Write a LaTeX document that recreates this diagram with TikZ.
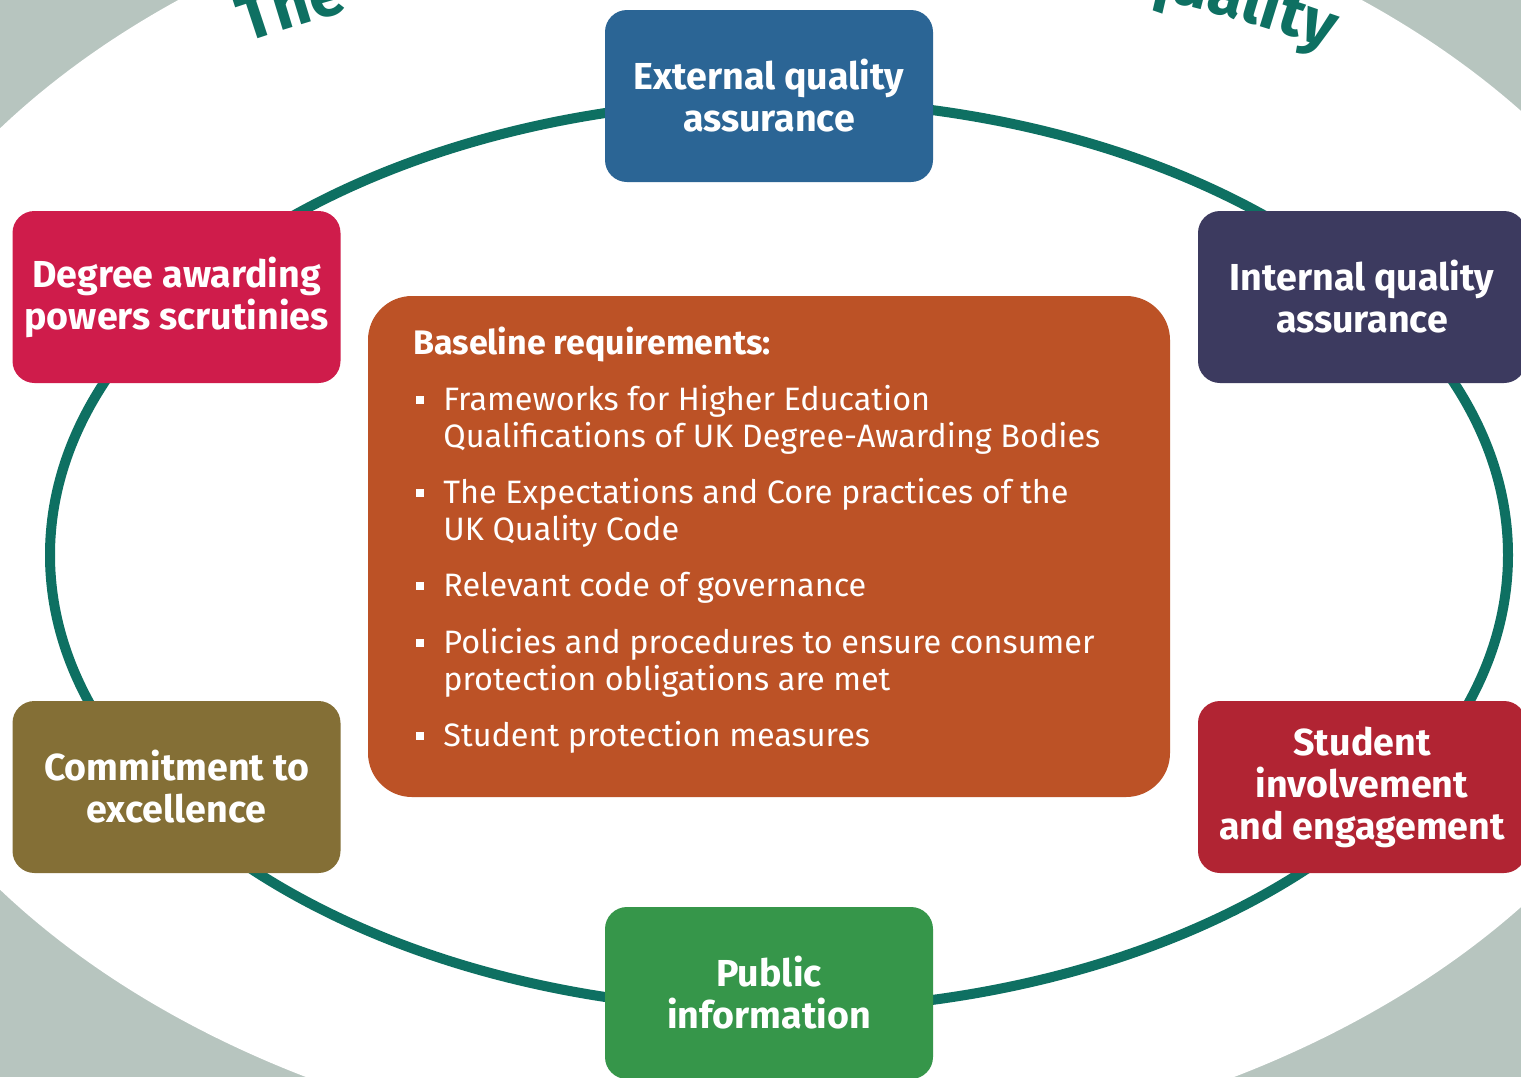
\documentclass[tikz,border=0pt]{standalone}
\usepackage{fontspec}
\setmainfont{Fira Sans}
\usetikzlibrary{decorations.text}
\definecolor{bgc}{HTML}{B7C5BF}
\definecolor{ringc}{HTML}{0E7062}
\definecolor{blueq}{HTML}{2B6595}
\definecolor{crimq}{HTML}{CF1C4B}
\definecolor{navyq}{HTML}{3C3A5F}
\definecolor{oliveq}{HTML}{846F36}
\definecolor{redq}{HTML}{B12433}
\definecolor{greenq}{HTML}{36964A}
\definecolor{rustq}{HTML}{BC5226}
\begin{document}
\begin{tikzpicture}[x=0.5pt,y=-0.5pt,
  hbox/.style={rounded corners=11pt, minimum width=164pt, minimum height=86pt,
    text=white, align=center, font=\fontsize{18.8}{21}\selectfont\bfseries, inner sep=0pt},
  itemline/.style={anchor=base west, text=white, inner sep=0pt,
    font=\fontsize{16.2}{19}\selectfont},
  bul/.style={fill=white, minimum size=3.8pt, inner sep=0pt}]
\useasboundingbox (0,0) rectangle (1521,1077);
\clip (0,0) rectangle (1521,1077);
\fill[bgc] (0,0) rectangle (1521,1077);
\fill[white] (770,509) ellipse [x radius=949, y radius=651];
\draw[ringc, line width=5pt] (779,555) ellipse [x radius=729, y radius=455];
% curved heading
\path[decorate, decoration={text along path, text align=center,
  text={|\fontsize{32}{32}\selectfont\bfseries\color{ringc}|The}}]
  (778,1599) ++(-113:1645) arc[start angle=-113, end angle=-101, radius=1645];
\path[decorate, decoration={text along path, text align=center,
  text={|\fontsize{32}{32}\selectfont\bfseries\color{ringc}|quality}}]
  (778,1599) ++(-86:1645) arc[start angle=-86, end angle=-62, radius=1645];
% outer boxes
\node[hbox, fill=blueq] (ext) at (769,96) {External quality\\assurance};
\node[hbox, fill=crimq] (dap) at (176.5,297) {Degree awarding\\powers scrutinies};
\node[hbox, fill=navyq] (iqa) at (1362,297) {Internal quality\\assurance};
\node[hbox, fill=oliveq] (cte) at (176.5,787) {Commitment to\\excellence};
\node[hbox, fill=redq] (sie) at (1362,787) {Student\\involvement\\and engagement};
\node[hbox, fill=greenq] (pub) at (769,993) {Public\\information};
% centre box
\node[fill=rustq, rounded corners=22pt, minimum width=401pt, minimum height=250.5pt, inner sep=0pt] (base) at (769,546.5) {};
\node[itemline, font=\fontsize{17}{19}\selectfont\bfseries] (title) at (413,354) {Baseline requirements:};
\node[bul] (b1) at (420,400) {};
\node[itemline] (i1a) at (443,410) {Frameworks for Higher Education};
\node[itemline] (i1b) at (443,447) {Qualifications of UK Degree-Awarding Bodies};
\node[bul] (b2) at (420,493) {};
\node[itemline] (i2a) at (443,503) {The Expectations and Core practices of the};
\node[itemline] (i2b) at (443,540) {UK Quality Code};
\node[bul] (b3) at (420,586) {};
\node[itemline] (i3a) at (443,596) {Relevant code of governance};
\node[bul] (b4) at (420,643) {};
\node[itemline] (i4a) at (443,653) {Policies and procedures to ensure consumer};
\node[itemline] (i4b) at (443,690) {protection obligations are met};
\node[bul] (b5) at (420,736) {};
\node[itemline] (i5a) at (443,746) {Student protection measures};
\end{tikzpicture}
\end{document}
